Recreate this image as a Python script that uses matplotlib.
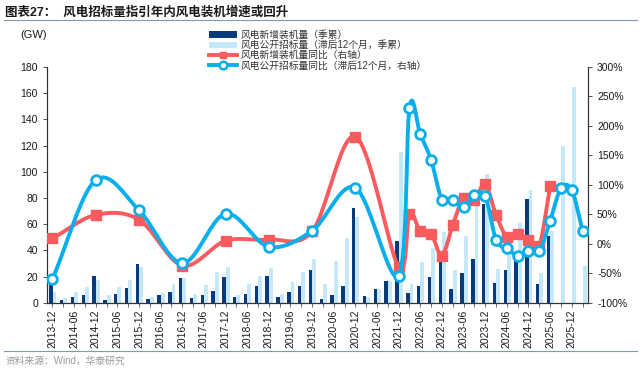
import numpy as np
import matplotlib
matplotlib.use("Agg")
import matplotlib.pyplot as plt
from matplotlib.lines import Line2D
from matplotlib.patches import Patch

plt.rcParams['font.family'] = ['Liberation Sans', 'Noto Sans CJK SC']

categories = [
    "2013-12", "2014-03", "2014-06", "2014-09", "2014-12", "2015-03", "2015-06", "2015-09",
    "2015-12", "2016-03", "2016-06", "2016-09", "2016-12", "2017-03", "2017-06", "2017-09",
    "2017-12", "2018-03", "2018-06", "2018-09", "2018-12", "2019-03", "2019-06", "2019-09",
    "2019-12", "2020-03", "2020-06", "2020-09", "2020-12", "2021-03", "2021-06", "2021-09",
    "2021-12", "2022-03", "2022-06", "2022-09", "2022-12", "2023-03", "2023-06", "2023-09",
    "2023-12", "2024-03", "2024-06", "2024-09", "2024-12", "2025-03", "2025-06", "2025-09",
    "2025-12", "2026-03",
]

# GW, quarterly cumulative new wind installations
install_gw = [14.1, 2.0, 4.3, 5.8, 20.4, 2.0, 6.4, 11.5, 29.5, 2.5, 5.5, 8.0, 18.5, 3.5, 5.5, 9.2,
              19.5, 4.6, 6.9, 12.4, 20.4, 4.4, 8.4, 12.5, 25.3, 2.5, 6.0, 12.5, 72.0, 5.0, 10.6, 16.2,
              47.3, 7.5, 12.8, 19.4, 35.8, 10.2, 22.4, 33.0, 75.6, 15.0, 25.3, 33.0, 79.4, 14.0, 51.0,
              np.nan, np.nan, np.nan]

# GW, public tenders (lagged 12 months)
tender_gw = [8.0, 3.5, 8.0, 12.0, 17.0, 6.2, 11.7, 17.0, 27.0, 4.0, 7.5, 13.9, 18.5, 7.0, 13.5, 23.8,
             27.6, 6.1, 14.6, 20.7, 26.6, 6.6, 15.8, 23.2, 33.0, 14.3, 31.6, 49.5, 65.3, 4.0, 10.6, 16.9,
             115.0, 14.0, 31.0, 42.0, 54.0, 25.0, 51.0, 80.0, 98.5, 25.8, 40.0, 61.0, 86.0, 22.7, 55.0,
             119.6, 164.6, 28.0]

# YoY (%) installations, right axis
install_yoy_idx = [0, 4, 8, 12, 16, 20, 24, 28, 32, 33, 34, 35, 36, 37, 38, 39, 40, 41, 42, 43, 44, 45, 46]
install_yoy = [9, 49, 41, -37, 5, 7, 21, 182, -40, 51, 21, 17, -20, 32, 78, 75, 101, 49, 12, 17, 6, -3, 98]

# YoY (%) tenders (lagged 12 months), right axis
tender_yoy_idx = [0, 4, 8, 12, 16, 20, 24, 28, 32, 33, 34, 35, 36, 37, 38, 39, 40, 41, 42, 43, 44, 45,
                  46, 47, 48, 49]
tender_yoy = [-60, 108, 57, -33, 51, -5, 22, 95, -54, 231, 186, 142, 75, 74, 62, 82, 81, 7, -8, -20,
              -13, -13, 39, 94, 91, 22]

C_NAVY = "#0b3a7a"
C_LIGHT = "#c4e8f8"
C_RED = "#f95b5e"
C_BLUE = "#0aaeea"
C_TEXT = "#1a1a1a"


def smooth(xs, ys, n=24):
    xs = np.asarray(xs, float)
    ys = np.asarray(ys, float)
    px = np.concatenate([[2 * xs[0] - xs[1]], xs, [2 * xs[-1] - xs[-2]]])
    py = np.concatenate([[2 * ys[0] - ys[1]], ys, [2 * ys[-1] - ys[-2]]])
    ox, oy = [], []
    for i in range(1, len(px) - 2):
        p0x, p1x, p2x, p3x = px[i - 1], px[i], px[i + 1], px[i + 2]
        p0y, p1y, p2y, p3y = py[i - 1], py[i], py[i + 1], py[i + 2]
        c1x = p1x + (p2x - p0x) / 6
        c1y = p1y + (p2y - p0y) / 6
        c2x = p2x - (p3x - p1x) / 6
        c2y = p2y - (p3y - p1y) / 6
        t = np.linspace(0, 1, n)
        bx = (1 - t) ** 3 * p1x + 3 * (1 - t) ** 2 * t * c1x + 3 * (1 - t) * t ** 2 * c2x + t ** 3 * p2x
        by = (1 - t) ** 3 * p1y + 3 * (1 - t) ** 2 * t * c1y + 3 * (1 - t) * t ** 2 * c2y + t ** 3 * p2y
        ox.append(bx)
        oy.append(by)
    return np.concatenate(ox), np.concatenate(oy)


fig = plt.figure(figsize=(6.42, 3.69), dpi=100)
ax = fig.add_axes([0.0732, 0.1797, 0.8427, 0.6387])
ax2 = ax.twinx()

x = np.arange(len(categories))
ax.bar(x - 0.15, install_gw, width=0.32, color=C_NAVY, zorder=3)
ax.bar(x + 0.19, tender_gw, width=0.36, color=C_LIGHT, zorder=2)

ax.set_xlim(-0.5, len(categories) - 0.5)
ax.set_ylim(0, 180)
ax.set_yticks(np.arange(0, 181, 20))
ax2.set_ylim(-100, 300)
ax2.set_yticks(np.arange(-100, 301, 50))
ax2.set_yticklabels([f"{v}%" for v in range(-100, 301, 50)])

rx, ry = smooth(install_yoy_idx, install_yoy)
ax2.plot(rx, ry, color=C_RED, lw=2.8, zorder=4, solid_capstyle='round')
ax2.plot(install_yoy_idx, install_yoy, ls='none', marker='s', ms=6.5, color=C_RED, zorder=5)

bx, by = smooth(tender_yoy_idx, tender_yoy)
ax2.plot(bx, by, color=C_BLUE, lw=2.8, zorder=6, solid_capstyle='round')
ax2.plot(tender_yoy_idx, tender_yoy, ls='none', marker='o', ms=7, mfc='white', mec=C_BLUE, mew=2,
         zorder=7)

ax.set_xticks(x)
ax.set_xticklabels([c if i % 2 == 0 else "" for i, c in enumerate(categories)], rotation=90,
                   fontsize=7.5, color=C_TEXT)
ax.tick_params(axis='x', length=3, width=0.6, color="#555555", pad=2)
ax.tick_params(axis='y', labelsize=7.5, length=3, width=0.6, color="#333333", labelcolor=C_TEXT)
ax2.tick_params(axis='y', labelsize=7.5, length=3, width=0.6, color="#333333", labelcolor=C_TEXT)

for a in (ax, ax2):
    a.spines['top'].set_visible(False)
    for s in ('left', 'right', 'bottom'):
        a.spines[s].set_color("#333333")
        a.spines[s].set_linewidth(0.8)
ax.set_zorder(ax2.get_zorder() - 1)
ax2.patch.set_visible(False)
ax.patch.set_visible(False)
fig.patch.set_facecolor('white')

handles = [
    Patch(facecolor=C_NAVY, edgecolor='none'),
    Patch(facecolor=C_LIGHT, edgecolor='none'),
    Line2D([], [], color=C_RED, lw=2.8, marker='s', ms=5),
    Line2D([], [], color=C_BLUE, lw=2.8, marker='o', ms=5.5, mfc='white', mec=C_BLUE, mew=1.8),
]
labels = [
    "风电新增装机量（季累）",
    "风电公开招标量（滞后12个月，季累）",
    "风电新增装机量同比（右轴）",
    "风电公开招标量同比（滞后12个月，右轴）",
]
fig.legend(handles, labels, loc='upper left', bbox_to_anchor=(0.318, 0.932), frameon=False,
           fontsize=7, handlelength=2.9, handleheight=0.6, labelspacing=0.02, borderpad=0,
           handletextpad=0.3, labelcolor="#333333")

fig.text(0.031, 0.905, "(GW)", fontsize=8, color=C_TEXT, va='center')
fig.text(0.008, 0.965, "图表27：  风电招标量指引年内风电装机增速或回升", fontsize=9, fontweight='bold',
         color=C_TEXT, va='center')
fig.add_artist(Line2D([0.006, 0.992], [0.946, 0.946], color="#8a96aa", lw=0.8))
fig.add_artist(Line2D([0.006, 0.992], [0.049, 0.049], color="#8a96aa", lw=0.8))
fig.text(0.008, 0.022, "资料来源：Wind，华泰研究", fontsize=7, color="#999999", va='center')

fig.savefig("out.png", dpi=100)
